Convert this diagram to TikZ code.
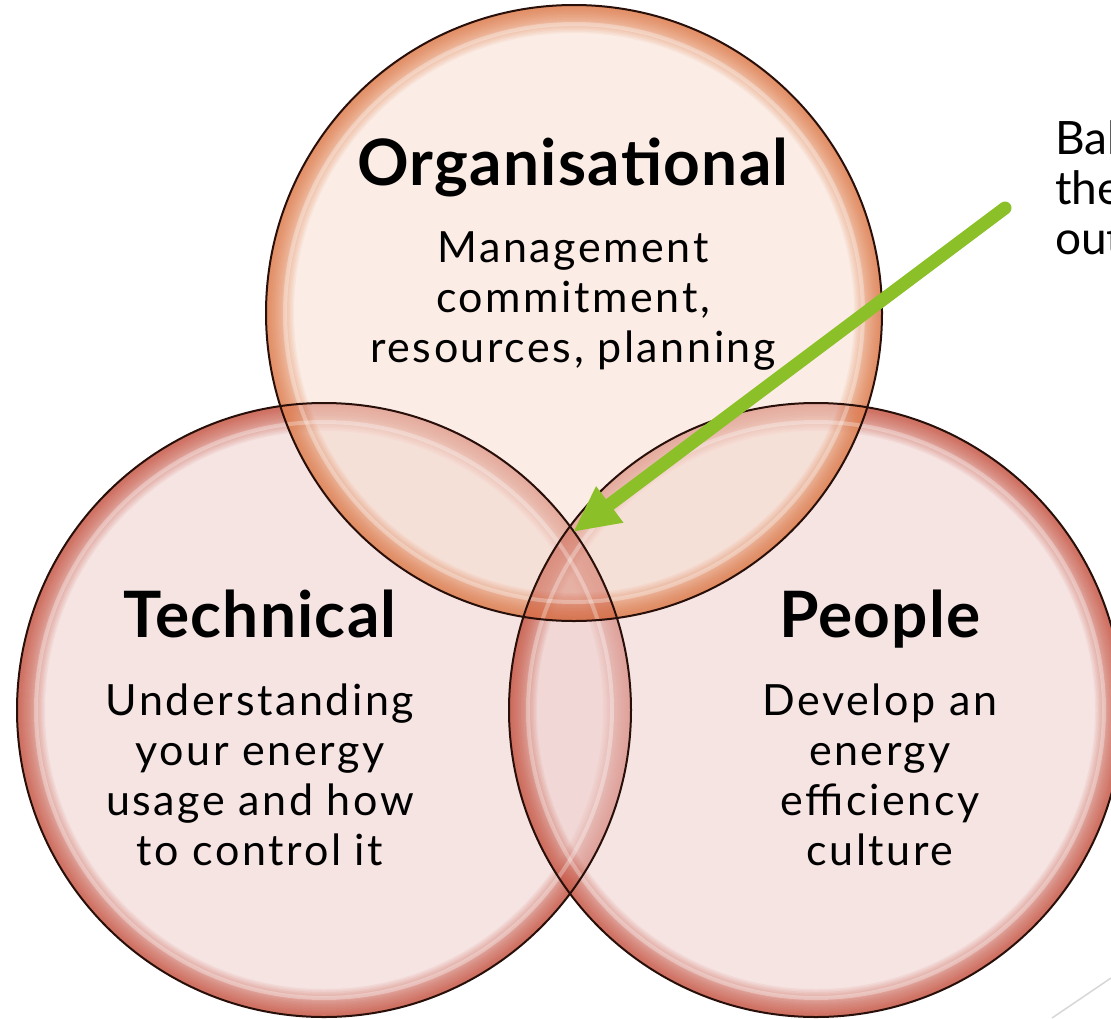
\documentclass[tikz,border=0pt]{standalone}
\usepackage{fontspec}
\setmainfont{Lato}
\usetikzlibrary{arrows.meta}
\definecolor{topfill}{RGB}{247,221,207}
\definecolor{sidefill}{RGB}{237,205,203}
\definecolor{toprim}{RGB}{222,112,58}
\definecolor{siderim}{RGB}{196,72,52}
\definecolor{outlinec}{RGB}{40,15,10}
\definecolor{arrowgreen}{RGB}{140,192,40}
\definecolor{slidegray}{RGB}{215,215,215}
\tikzset{
  titletext/.style={font=\fontsize{64}{70}\selectfont\bfseries\addfontfeatures{LetterSpace=2}, anchor=base, inner sep=0pt},
  bodytext/.style={font=\fontsize{43}{50}\selectfont\addfontfeatures{LetterSpace=6}, align=center, anchor=base, inner sep=0pt},
  sidetext/.style={font=\fontsize{46}{50}\selectfont, align=left, anchor=base west, inner sep=0pt},
  ringline/.style={draw=outlinec, line width=2pt},
  gloss/.style={draw=white, line width=4pt, opacity=0.3},
}
\newcommand\bubble[4]{% center, radius, fill, rim
  \fill[#3, fill opacity=0.55] (#1) circle (#2);
  \begin{scope}
    \clip (#1) circle (#2);
    \foreach \w in {2,5,...,56}
      \draw[#4, line width=\w pt, opacity=0.065] (#1) circle (#2);
  \end{scope}
}
\begin{document}
\begin{tikzpicture}[x=1pt,y=-1pt]
\useasboundingbox (0,0) rectangle (1111,1018);
\begin{scope}
\clip (0,0) rectangle (1111,1018);
\coordinate (cl) at (324,710);
\coordinate (cr) at (816,710);
\coordinate (ct) at (574,313);
\bubble{cl}{307pt}{sidefill}{siderim}
\bubble{cr}{307pt}{sidefill}{siderim}
\bubble{ct}{308pt}{topfill}{toprim}
% darker centre where all three meet
\begin{scope}
  \clip (cl) circle (307pt);
  \clip (cr) circle (307pt);
  \clip (ct) circle (308pt);
  \fill[siderim, fill opacity=0.28] (cl) circle (307pt);
\end{scope}
% gloss highlights
\draw[gloss] (cl) circle (288pt);
\draw[gloss] (cr) circle (288pt);
\draw[gloss] (ct) circle (289pt);
% outlines
\draw[ringline] (cl) circle (307pt);
\draw[ringline] (cr) circle (307pt);
\draw[ringline] (ct) circle (308pt);
% text
\node[titletext] (orgT) at (573,185) {Organisational};
\node[bodytext] (orgB) at (573,362) {Management\\commitment,\\resources, planning};
\node[titletext] (tecT) at (260,637) {Technical};
\node[bodytext] (tecB) at (260,865) {Understanding\\your energy\\usage and how\\to control it};
\node[titletext] (peoT) at (880,637) {People};
\node[bodytext] (peoB) at (880,865) {Develop an\\energy\\efficiency\\culture};
\node[sidetext] (note) at (1055,254) {Bala\\the\\out};
% arrow
\coordinate (astart) at (1005,208);
\coordinate (ameet) at (573,532);
\draw[arrowgreen, line width=13pt, line cap=round, -{Triangle[length=46pt,width=42pt]}] (astart) -- (ameet);
% slide decoration line
\coordinate (g1) at (1111,978);
\coordinate (g2) at (1052,1018);
\draw[slidegray, line width=1.5pt] (g1) -- (g2);
\end{scope}
\end{tikzpicture}
\end{document}
